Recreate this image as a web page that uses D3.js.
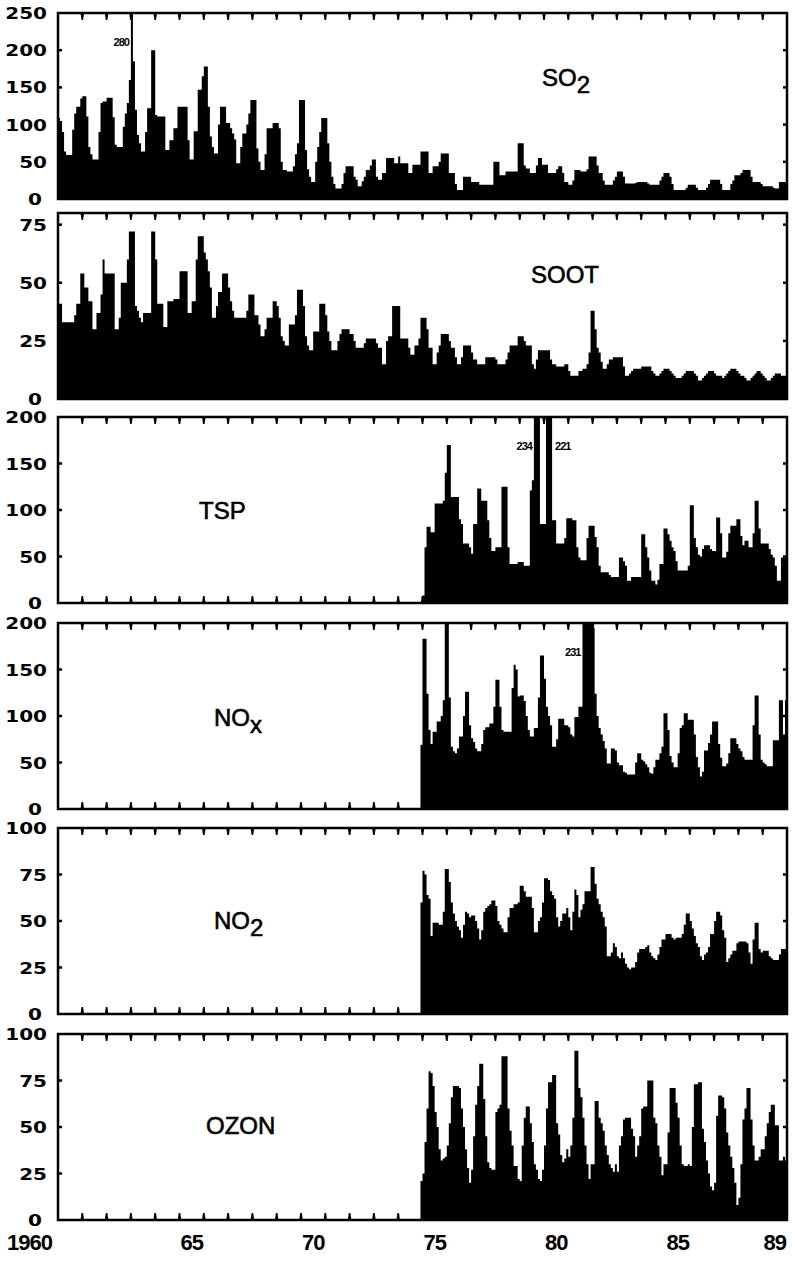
<!doctype html>
<html>
<head>
<meta charset="utf-8">
<title>Luftschadstoffe 1960-1989</title>
<script src="https://cdn.jsdelivr.net/npm/d3@7"></script>
<style>
  body { margin: 0; background: #fff; }
  text { fill: #000; }
</style>
</head>
<body>
<svg id="chart" width="795" height="1264"></svg>
<script>
// monthly means, SO2 and SOOT from Jan 1960
const so2 = [
  109,105,90,64,59,59,59,93,115,124,124,135,
  138,138,111,70,60,53,53,53,90,129,131,131,
  136,136,136,110,73,70,70,70,97,115,129,160,
  280,185,120,86,75,64,64,90,122,122,200,200,
  113,111,111,111,111,66,66,79,79,95,95,124,
  124,124,124,124,79,53,53,91,91,147,147,165,
  178,178,124,84,70,61,61,100,124,124,124,102,
  102,95,88,80,48,48,70,88,88,100,115,133,
  133,133,68,50,39,39,60,95,95,95,102,102,
  102,95,50,39,39,37,37,37,44,60,75,133,
  133,133,66,40,30,23,23,50,70,90,109,109,
  109,75,50,30,20,14,14,14,20,35,44,44,
  44,44,30,26,17,17,24,30,39,39,45,53,
  53,30,26,26,35,35,55,55,55,55,48,48,
  57,48,48,48,48,35,35,46,46,46,46,64,
  64,64,64,35,35,44,44,44,50,61,61,61,
  61,35,35,35,20,12,12,12,30,30,30,30,
  23,23,23,23,19,19,19,19,19,19,19,50,
  50,50,32,32,32,37,37,37,37,37,37,75,
  75,75,45,41,41,35,35,35,45,55,55,46,
  46,46,35,35,35,35,40,44,44,35,23,23,
  19,19,25,39,39,39,37,37,37,40,57,57,
  57,57,45,35,35,25,19,19,19,19,25,30,
  37,37,37,30,21,21,21,21,21,22,23,23,
  23,23,23,21,19,19,19,19,19,25,30,35,
  35,35,30,20,12,12,12,12,12,12,15,19,
  19,19,19,15,12,12,12,12,15,20,26,26,
  26,26,26,20,12,12,12,12,20,25,32,32,
  32,35,39,39,39,39,30,23,23,23,23,20,
  17,17,17,17,17,15,14,14,23,23,23,23
];
const soot = [
  41,41,33,33,33,33,33,33,36,41,41,54,
  54,48,48,42,42,30,30,37,37,45,60,54,
  54,54,54,54,30,30,35,50,50,50,60,72,
  72,72,40,38,35,33,37,37,37,37,72,72,
  60,41,41,41,31,31,42,42,42,43,43,43,
  55,55,55,55,37,37,42,42,60,70,70,70,
  63,60,55,48,35,35,40,46,46,54,54,54,
  48,42,38,35,35,35,35,35,35,38,45,45,
  45,36,36,32,27,27,30,35,35,35,42,42,
  40,35,27,25,23,23,32,32,32,36,47,47,
  47,40,27,23,21,21,29,29,29,41,41,41,
  36,29,25,21,21,21,25,28,30,30,30,30,
  28,28,25,22,22,22,22,24,26,26,26,26,
  26,24,22,22,15,15,25,27,27,40,40,40,
  40,26,26,26,26,22,19,19,23,23,26,35,
  35,35,30,22,22,15,15,20,23,28,28,28,
  28,25,22,22,18,15,15,18,23,23,23,23,
  20,17,17,15,15,15,15,18,18,18,18,18,
  17,15,15,15,15,17,20,23,23,23,23,27,
  27,27,25,23,23,23,15,13,17,21,21,21,
  21,21,21,17,15,15,14,14,14,14,15,15,
  12,10,10,10,10,12,12,13,13,15,20,38,
  38,30,22,20,16,13,13,15,17,17,18,18,
  18,18,18,14,10,10,11,12,13,13,13,13,
  14,14,14,14,14,12,11,10,10,11,12,13,
  13,13,12,11,10,9,9,9,10,11,12,12,
  12,12,11,10,8,8,9,10,11,12,12,12,
  11,10,10,10,9,10,11,12,13,13,13,12,
  11,10,10,9,8,8,9,10,11,12,12,11,
  10,9,8,8,9,10,11,11,11,10,10,10
];
// TSP from Jan 1975
const tsp = [
  8,60,82,82,76,76,107,107,107,107,110,140,
  170,170,114,114,114,114,90,85,64,64,64,60,
  53,85,85,123,123,110,110,110,89,70,56,56,
  60,60,60,125,125,125,60,42,42,42,42,44,
  44,44,40,40,40,121,132,234,215,205,85,85,
  85,221,210,205,89,89,64,64,64,64,70,91,
  91,91,89,89,60,49,46,46,46,70,83,83,
  83,71,60,40,33,33,33,33,30,28,28,28,
  28,49,49,45,40,24,24,28,28,28,28,28,
  74,74,60,49,35,24,24,20,25,42,42,80,
  80,74,67,60,56,45,35,35,35,35,35,40,
  105,105,70,60,52,50,58,62,62,62,58,56,
  56,92,92,75,49,49,55,75,83,83,83,90,
  90,72,62,67,67,60,60,75,110,110,80,64,
  64,64,64,58,52,49,40,24,24,49,49,49
];
// NOx, NO2, OZON from Dec 1974
const nox = [
  69,
  183,183,124,85,70,83,83,94,94,100,117,210,
  210,120,67,62,60,65,78,78,100,126,126,90,
  76,72,65,62,62,70,85,88,88,92,92,110,
  139,139,110,85,83,83,83,83,130,155,150,121,
  122,122,116,100,85,78,78,87,87,120,165,165,
  140,110,100,90,67,67,75,97,97,97,90,90,
  88,80,78,99,99,110,110,231,210,205,200,200,
  195,124,100,87,80,73,65,49,49,65,65,63,
  50,47,47,40,39,37,37,37,37,50,60,60,
  53,51,48,45,39,38,45,53,53,60,67,103,
  103,85,57,50,45,45,60,87,90,103,103,96,
  96,96,80,56,45,35,40,63,63,71,80,94,
  94,94,70,55,46,46,49,60,76,76,76,70,
  65,62,56,53,53,53,53,90,122,122,80,53,
  50,48,46,46,46,74,74,74,117,117,80,117
];
const no2 = [
  60,
  77,75,64,62,42,49,49,49,48,48,55,78,
  78,71,60,54,50,47,45,41,48,55,54,52,
  53,53,50,46,40,45,55,57,58,59,61,61,
  58,50,48,46,44,44,52,57,57,59,59,60,
  69,69,66,63,63,63,57,44,44,50,52,60,
  73,73,72,66,64,62,52,47,50,54,54,57,
  52,45,55,67,64,52,56,59,66,66,66,79,
  79,70,62,59,55,52,47,31,31,33,38,36,
  31,30,33,30,27,25,24,25,25,28,33,35,
  35,35,36,37,33,31,30,29,32,36,40,40,
  43,43,43,41,40,41,41,41,43,48,54,54,
  50,46,42,38,36,31,29,32,33,36,43,43,
  50,55,55,53,45,41,28,30,32,34,34,38,
  39,39,39,39,38,33,27,40,49,49,35,33,
  34,34,34,31,30,29,29,29,32,35,35,35
];
const ozon = [
  21,
  25,42,60,80,79,72,58,50,38,32,33,34,
  40,52,66,72,72,72,71,60,50,38,28,20,
  27,45,62,72,84,84,65,45,31,28,27,27,
  58,60,62,88,88,88,60,48,40,29,29,22,
  21,40,55,61,61,52,42,30,27,22,21,27,
  40,60,74,74,78,78,52,46,35,31,33,38,
  34,40,55,91,91,71,66,55,40,30,22,30,
  30,64,64,55,52,48,40,35,30,28,26,30,
  26,40,45,54,55,55,55,49,45,34,40,45,
  60,61,61,75,75,75,55,52,40,34,24,30,
  30,47,71,71,71,63,55,40,30,29,29,30,
  29,50,73,73,74,74,49,42,32,25,18,16,
  20,56,67,67,66,60,47,40,34,28,20,8,
  12,30,54,60,71,71,54,40,32,32,34,38,
  38,45,52,58,62,62,51,51,32,32,34,32
];

const yearTicks = d3.range(1961, 1990);
const yearLabels = [1960, 1965, 1970, 1975, 1980, 1985, 1989];
const yearLabelText = ["1960", "65", "70", "75", "80", "85", "89"];

const panels = [
  {title: "SO", sub: "2", values: so2, start: 1960, max: 250, ticks: [0, 50, 100, 150, 200, 250], top: 13, tx: 542, ty: 86},
  {title: "SOOT", sub: "", values: soot, start: 1960, max: 80, ticks: [0, 25, 50, 75], top: 213, tx: 531, ty: 283},
  {title: "TSP", sub: "", values: tsp, start: 1975, max: 200, ticks: [0, 50, 100, 150, 200], top: 417, tx: 199, ty: 519},
  {title: "NO", sub: "x", values: nox, start: 1974 + 11 / 12, max: 200, ticks: [0, 50, 100, 150, 200], top: 623, tx: 214, ty: 726},
  {title: "NO", sub: "2", values: no2, start: 1974 + 11 / 12, max: 100, ticks: [0, 25, 50, 75, 100], top: 828, tx: 214, ty: 929},
  {title: "OZON", sub: "", values: ozon, start: 1974 + 11 / 12, max: 100, ticks: [0, 25, 50, 75, 100], top: 1034, tx: 206, ty: 1134}
];

// peak values written beside the clipped spikes
const peaks = [
  {panel: 0, text: "280", at: 1963, side: "left"},
  {panel: 2, text: "234", at: 1979 + 7 / 12, side: "left"},
  {panel: 2, text: "221", at: 1980 + 4 / 12, side: "right"},
  {panel: 3, text: "231", at: 1981 + 7 / 12, side: "left"}
];

const panelH = 186;
const svg = d3.select("#chart");
const x = d3.scaleLinear().domain([1960, 1990]).range([58, 787]);

panels.forEach((p, k) => {
  const y = d3.scaleLinear().domain([0, p.max]).range([p.top + panelH, p.top]);
  const g = svg.append("g").attr("class", "panel");
  const bottom = p.top + panelH;

  const pts = p.values.map((v, i) => ({t: p.start + i / 12, v: v}));
  pts.push({t: p.start + p.values.length / 12, v: p.values[p.values.length - 1]});

  const area = d3.area()
    .curve(d3.curveStepAfter)
    .x(d => x(d.t))
    .y0(y(0))
    .y1(d => y(Math.min(d.v, p.max)));

  g.append("path").datum(pts).attr("d", area).attr("fill", "#000");

  g.append("rect")
    .attr("x", x(1960)).attr("y", p.top)
    .attr("width", x(1990) - x(1960)).attr("height", panelH)
    .attr("fill", "none").attr("stroke", "#000").attr("stroke-width", 2.5);

  // year ticks on top and bottom, pointing inward
  yearTicks.forEach(yr => {
    g.append("path")
      .attr("d", `M${x(yr) - 1.8},${p.top} L${x(yr) + 1.8},${p.top} L${x(yr) + 0.8},${p.top + 7} L${x(yr) - 0.8},${p.top + 7} Z`)
      .attr("fill", "#000");
    g.append("path")
      .attr("d", `M${x(yr) - 1.8},${bottom} L${x(yr) + 1.8},${bottom} L${x(yr) + 0.8},${bottom - 7} L${x(yr) - 0.8},${bottom - 7} Z`)
      .attr("fill", "#000");
  });

  // value ticks inside left and right frame
  p.ticks.filter(t => t > 0 && t < p.max).forEach(v => {
    g.append("line")
      .attr("x1", x(1960)).attr("x2", x(1960) + 4)
      .attr("y1", y(v)).attr("y2", y(v))
      .attr("stroke", "#000").attr("stroke-width", 2.5);
    g.append("line")
      .attr("x1", x(1990)).attr("x2", x(1990) - 4)
      .attr("y1", y(v)).attr("y2", y(v))
      .attr("stroke", "#000").attr("stroke-width", 2.5);
  });

  // tick labels
  g.selectAll("text.ylab").data(p.ticks).join("text")
    .attr("class", "ylab")
    .attr("transform", d => `translate(${d === 0 ? 42 : 47},${y(d) + 6}) scale(1.25,1)`)
    .attr("text-anchor", "end")
    .style("font-family", "DejaVu Sans")
    .style("font-weight", "bold")
    .style("font-size", "16px")
    .text(d => d);

  // panel title
  const t = g.append("text")
    .attr("x", p.tx).attr("y", p.ty)
    .style("font-family", "Liberation Sans")
    .style("font-size", "24px")
    .attr("stroke", "#000").attr("stroke-width", 0.6)
    .text(p.title);
  if (p.sub) t.append("tspan").attr("dy", 7).text(p.sub);
});

peaks.forEach(d => {
  const p = panels[d.panel];
  const px = x(d.at);
  svg.append("text")
    .attr("x", d.side === "left" ? px - 2 : px + 3)
    .attr("y", p.top + 33)
    .attr("text-anchor", d.side === "left" ? "end" : "start")
    .style("font-family", "Liberation Sans")
    .style("font-weight", "bold")
    .style("font-size", "11px")
    .style("letter-spacing", "-1px")
    .text(d.text);
});

// x axis labels under the last panel
svg.selectAll("text.xlab").data(yearLabels).join("text")
  .attr("class", "xlab")
  .attr("x", (d, i) => i === 0 ? 52 : x(d + 0.5))
  .attr("y", 1250)
  .attr("text-anchor", (d, i) => i === 0 ? "end" : "middle")
  .style("font-family", "Liberation Sans")
  .style("font-weight", "bold")
  .style("font-size", "22px")
  .style("letter-spacing", "-1px")
  .text((d, i) => yearLabelText[i]);
</script>
</body>
</html>
